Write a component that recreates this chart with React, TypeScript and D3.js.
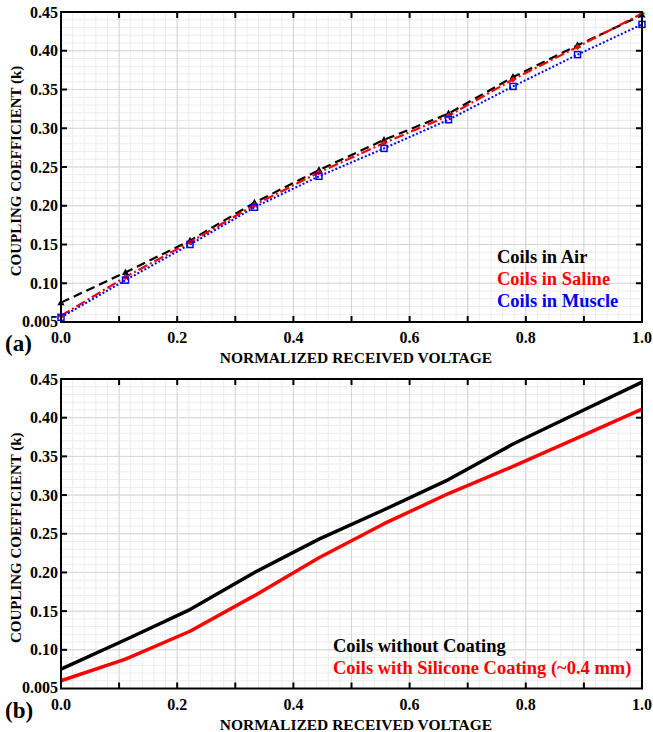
import React from "react";
import * as d3 from "d3";

// Sample positions along the normalized voltage axis.
const xVals = [0, 0.111, 0.222, 0.333, 0.444, 0.556, 0.667, 0.778, 0.889, 1.0];

// Panel (a): coupling coefficient in different media.
const airK = [0.075, 0.114, 0.155, 0.204, 0.246, 0.285, 0.319, 0.366, 0.407, 0.446];
const salineK = [0.058, 0.108, 0.153, 0.201, 0.243, 0.281, 0.316, 0.363, 0.405, 0.448];
const muscleK = [0.056, 0.104, 0.150, 0.198, 0.238, 0.274, 0.311, 0.354, 0.395, 0.434];

// Panel (b): with and without silicone coating.
const noCoatK = [0.075, 0.113, 0.152, 0.200, 0.243, 0.281, 0.320, 0.366, 0.406, 0.446];
const coatK = [0.060, 0.088, 0.124, 0.170, 0.219, 0.263, 0.302, 0.337, 0.374, 0.411];

const yTickValues = [0.05, 0.1, 0.15, 0.2, 0.25, 0.3, 0.35, 0.4, 0.45];
const yTickLabels = ["0.005", "0.10", "0.15", "0.20", "0.25", "0.30", "0.35", "0.40", "0.45"];
const xTickValues = [0, 0.2, 0.4, 0.6, 0.8, 1.0];
const xTickLabels = ["0.0", "0.2", "0.4", "0.6", "0.8", "1.0"];

const FONT = "'Liberation Serif', 'Times New Roman', serif";

type Series = {
  values: number[];
  color: string;
  width: number;
  dash?: string;
  marker?: "tri" | "diamond" | "square";
};

type PanelProps = {
  top: number;
  bottom: number;
  tag: string;
  series: Series[];
  legend: { text: string; color: string }[];
  legendX: number;
  legendY: number;
};

const Panel = ({ top, bottom, tag, series, legend, legendX, legendY }: PanelProps) => {
  const left = 61;
  const right = 642;
  const x = d3.scaleLinear().domain([0, 1]).range([left, right]);
  const y = d3.scaleLinear().domain([0.05, 0.45]).range([bottom, top]);

  const minorX = d3.range(0, 1.0001, 0.02);
  const minorY = d3.range(0.05, 0.4501, 0.01);
  const majorX = d3.range(0, 1.0001, 0.1);
  const tickX = d3.range(0.1, 0.95, 0.1);

  const line = d3
    .line<number>()
    .x((_, i) => x(xVals[i]))
    .y((d) => y(d));

  return (
    <g>
      {/* grid */}
      {minorX.map((v, i) => (
        <line key={"mx" + i} x1={x(v)} x2={x(v)} y1={top} y2={bottom} stroke="#ececec" strokeWidth={1} />
      ))}
      {minorY.map((v, i) => (
        <line key={"my" + i} x1={left} x2={right} y1={y(v)} y2={y(v)} stroke="#ececec" strokeWidth={1} />
      ))}
      {majorX.map((v, i) => (
        <line key={"Mx" + i} x1={x(v)} x2={x(v)} y1={top} y2={bottom} stroke="#d6d6d6" strokeWidth={1} />
      ))}
      {yTickValues.map((v, i) => (
        <line key={"My" + i} x1={left} x2={right} y1={y(v)} y2={y(v)} stroke="#d6d6d6" strokeWidth={1} />
      ))}

      {/* data lines */}
      {series.map((s, i) => (
        <path
          key={"s" + i}
          d={line(s.values) || ""}
          fill="none"
          stroke={s.color}
          strokeWidth={s.width}
          strokeDasharray={s.dash}
          strokeLinejoin="round"
        />
      ))}
      {series.map((s, i) =>
        s.marker
          ? s.values.map((v, j) => {
              const cx = x(xVals[j]);
              const cy = y(v);
              if (s.marker === "square")
                return (
                  <rect key={`m${i}-${j}`} x={cx - 3} y={cy - 3} width={6} height={6} fill="none" stroke={s.color} strokeWidth={1.5} />
                );
              if (s.marker === "diamond")
                return (
                  <path key={`m${i}-${j}`} d={`M${cx},${cy - 3}L${cx + 3},${cy}L${cx},${cy + 3}L${cx - 3},${cy}Z`} fill={s.color} />
                );
              return (
                <path key={`m${i}-${j}`} d={`M${cx},${cy - 4}L${cx + 3.5},${cy + 2.5}L${cx - 3.5},${cy + 2.5}Z`} fill={s.color} />
              );
            })
          : null
      )}

      {/* ticks */}
      {tickX.map((v, i) => (
        <g key={"tx" + i}>
          <line x1={x(v)} x2={x(v)} y1={top} y2={top + 6} stroke="#000" strokeWidth={2} />
          <line x1={x(v)} x2={x(v)} y1={bottom} y2={bottom - 6} stroke="#000" strokeWidth={2} />
        </g>
      ))}
      {yTickValues.slice(1, -1).map((v, i) => (
        <g key={"ty" + i}>
          <line x1={left} x2={left + 6} y1={y(v)} y2={y(v)} stroke="#000" strokeWidth={2} />
          <line x1={right} x2={right - 6} y1={y(v)} y2={y(v)} stroke="#000" strokeWidth={2} />
        </g>
      ))}
      <rect x={left} y={top} width={right - left} height={bottom - top} fill="none" stroke="#000" strokeWidth={2} />

      {/* tick labels */}
      {yTickValues.map((v, i) => (
        <text
          key={"yl" + i}
          x={left - 3}
          y={y(v) - (i === 0 ? 1 : 0)}
          dy="0.35em"
          textAnchor="end"
          fontFamily={FONT}
          fontWeight="bold"
          fontSize={16}
        >
          {yTickLabels[i]}
        </text>
      ))}
      {xTickValues.map((v, i) => (
        <text key={"xl" + i} x={x(v)} y={bottom + 21} textAnchor="middle" fontFamily={FONT} fontWeight="bold" fontSize={16}>
          {xTickLabels[i]}
        </text>
      ))}

      {/* axis titles */}
      <text x={356} y={bottom + 41} textAnchor="middle" fontFamily={FONT} fontWeight="bold" fontSize={15.5}>
        NORMALIZED RECEIVED VOLTAGE
      </text>
      <text
        transform={`translate(21, ${(top + bottom) / 2 + 4}) rotate(-90)`}
        textAnchor="middle"
        fontFamily={FONT}
        fontWeight="bold"
        fontSize={15}
      >
        COUPLING COEFFICIENT (k)
      </text>
      <text x={5} y={bottom + 29} fontFamily={FONT} fontWeight="bold" fontSize={23}>
        {tag}
      </text>

      {/* legend */}
      {legend.map((l, i) => (
        <text key={"lg" + i} x={legendX} y={legendY + i * 22} fill={l.color} fontFamily={FONT} fontWeight="bold" fontSize={18.5}>
          {l.text}
        </text>
      ))}
    </g>
  );
};

const App = () => {
  return (
    <svg width={653} height={732} style={{ position: "absolute", left: 0, top: 0, background: "#fff" }}>
      <rect width={653} height={732} fill="#fff" />
      <Panel
        top={12}
        bottom={322}
        tag="(a)"
        series={[
          { values: airK, color: "#000", width: 2.2, dash: "9,5", marker: "tri" },
          { values: salineK, color: "#ff0000", width: 2.2, dash: "10,3,2,3", marker: "diamond" },
          { values: muscleK, color: "#0000ff", width: 2, dash: "2,2", marker: "square" },
        ]}
        legend={[
          { text: "Coils in Air", color: "#000" },
          { text: "Coils in Saline", color: "#ff0000" },
          { text: "Coils in Muscle", color: "#0000ee" },
        ]}
        legendX={497}
        legendY={263}
      />
      <Panel
        top={379}
        bottom={688.5}
        tag="(b)"
        series={[
          { values: noCoatK, color: "#000", width: 3.5 },
          { values: coatK, color: "#ff0000", width: 3.5 },
        ]}
        legend={[
          { text: "Coils without Coating", color: "#000" },
          { text: "Coils with Silicone Coating (~0.4 mm)", color: "#ff0000" },
        ]}
        legendX={333}
        legendY={652}
      />
    </svg>
  );
};

export default App;
